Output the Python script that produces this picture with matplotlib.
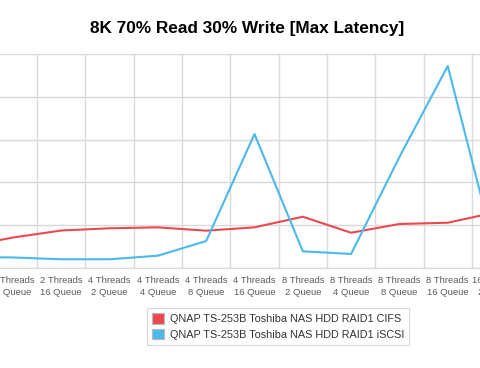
import matplotlib.pyplot as plt
from matplotlib.patches import Patch
import numpy as np

# categories (chart is a cropped view; the outer ones are only partly visible)
categories = [
    "2 Threads\n4 Queue", "2 Threads\n8 Queue", "2 Threads\n16 Queue",
    "4 Threads\n2 Queue", "4 Threads\n4 Queue", "4 Threads\n8 Queue",
    "4 Threads\n16 Queue", "8 Threads\n2 Queue", "8 Threads\n4 Queue",
    "8 Threads\n8 Queue", "8 Threads\n16 Queue", "16 Threads\n2 Queue",
]
cifs = [24.9, 35.6, 43.8, 46.4, 47.5, 43.6, 47.5, 59.9, 41.2, 51.4, 52.9, 65.1]
iscsi = [12.9, 12.3, 10.2, 10.2, 14.4, 31.5, 156.5, 19.5, 16.4, 129.7, 236.0, 15.7]
series_names = [
    "QNAP TS-253B Toshiba NAS HDD RAID1 CIFS",
    "QNAP TS-253B Toshiba NAS HDD RAID1 iSCSI",
]
colors = ["#ea4a4f", "#4bb9ea"]

plt.rcParams["font.family"] = ["Liberation Sans", "DejaVu Sans"]

fig = plt.figure(figsize=(4.8, 3.68), dpi=100)
# axes wider than the figure so the outer categories get clipped like the reference
ax = fig.add_axes([-59.5 / 480, 100 / 368, 579.7 / 480, 214 / 368])

x = np.arange(len(categories))
ax.plot(x, cifs, color=colors[0], lw=1.5, solid_joinstyle="round")
ax.plot(x, iscsi, color=colors[1], lw=1.5, solid_joinstyle="round")

ax.set_xlim(-0.5, len(categories) - 0.5)
ax.set_ylim(0, 250)
ax.set_yticks(np.arange(0, 251, 50))
ax.set_xticks(x)
ax.set_xticklabels(categories, fontsize=6.8, color="#5a5a5a", linespacing=1.35)
ax.set_xticks(x[:-1] + 0.5, minor=True)
ax.tick_params(axis="x", which="both", length=0, pad=6)
ax.tick_params(axis="y", length=0, labelleft=False)
ax.grid(True, axis="y", color="#d9d9d9", lw=1)
ax.grid(True, axis="x", which="minor", color="#d9d9d9", lw=1)
ax.set_axisbelow(True)
for s in ["top", "left", "right"]:
    ax.spines[s].set_visible(False)
ax.spines["bottom"].set_color("#d9d9d9")

fig.text(247 / 480, 1 - 29 / 368, "8K 70% Read 30% Write [Max Latency]",
         ha="center", va="center", fontsize=12.4, fontweight="bold")

handles = [Patch(facecolor=c, edgecolor="#bbbbbb", lw=0.8) for c in colors]
leg = fig.legend(handles, series_names, loc="upper left",
                 bbox_to_anchor=(142 / 480, 1 - 303 / 368), fontsize=7.8,
                 frameon=True, fancybox=False, handlelength=1.1, handleheight=1.1,
                 handletextpad=0.5, borderpad=0.45, labelspacing=0.45,
                 edgecolor="#cccccc")
leg.get_frame().set_linewidth(0.8)
for t in leg.get_texts():
    t.set_color("#333333")

fig.savefig("out.png", dpi=100)
